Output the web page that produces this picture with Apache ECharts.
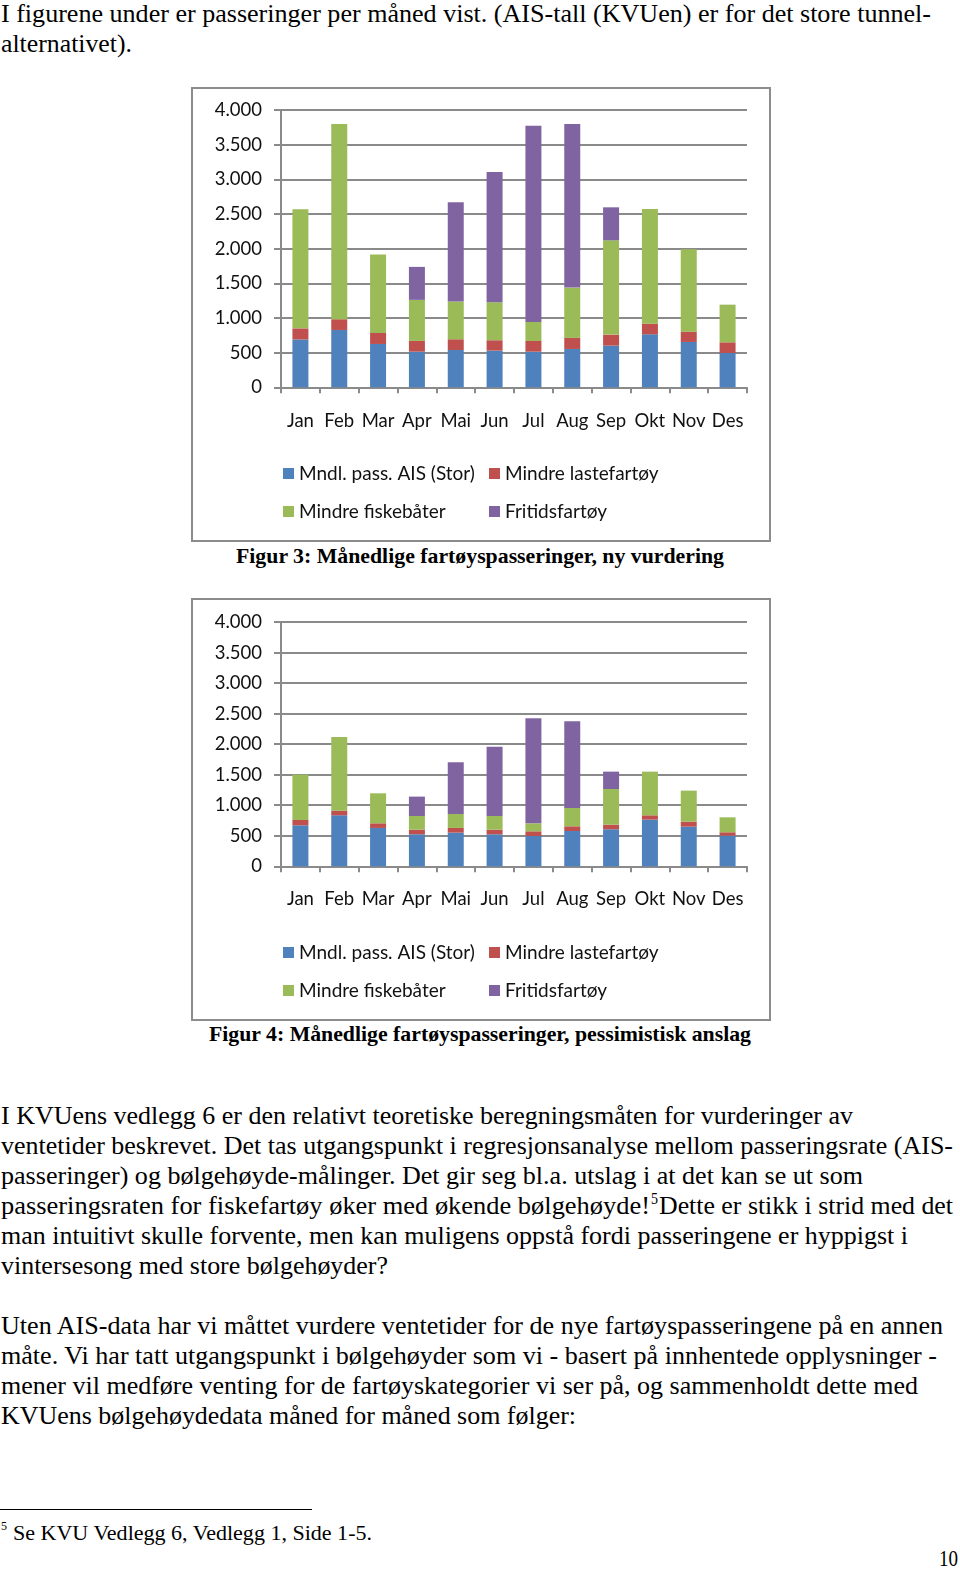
<!DOCTYPE html>
<html>
<head>
<meta charset="utf-8">
<script src="https://cdn.jsdelivr.net/npm/echarts@6/dist/echarts.min.js"></script>
<style>
  html, body { margin: 0; padding: 0; background: #fff; }
  #page { position: relative; width: 960px; height: 1569px; overflow: hidden; }
  #prose { position: absolute; left: 0; top: 0; }
  #prose text { font-family: "Liberation Serif", "Times New Roman", serif; fill: #000; }
  .fig { position: absolute; left: 0; width: 960px; }
</style>
</head>
<body>
<div id="page">
  <svg id="prose" width="960" height="1569"></svg>
  <div id="fig3" class="fig" style="top: 80px; height: 466px;"></div>
  <div id="fig4" class="fig" style="top: 590px; height: 436px;"></div>
</div>

<script>
// kategorier
const months = ['Jan', 'Feb', 'Mar', 'Apr', 'Mai', 'Jun', 'Jul', 'Aug', 'Sep', 'Okt', 'Nov', 'Des'];
const seriesNames = ['Mndl. pass. AIS (Stor)', 'Mindre lastefartøy', 'Mindre fiskebåter', 'Fritidsfartøy'];
const yTicks = { min: 0, max: 4000, interval: 500 };

// Figur 3: ny vurdering
const ais3    = [690, 827, 625, 514, 538, 529, 514, 553, 601, 764, 654, 495];
const laste3  = [160, 155, 160, 155, 155, 150, 154, 159, 159, 154, 149, 154];
const fiske3  = [1720, 2817, 1130, 592, 544, 548, 274, 726, 1360, 1654, 1187, 543];
const fritid3 = [0, 0, 0, 476, 1432, 1880, 2832, 2360, 476, 0, 0, 0];

// Figur 4: pessimistisk anslag
const ais4    = [671, 835, 628, 524, 551, 524, 497, 578, 606, 764, 649, 502];
const laste4  = [87, 76, 76, 76, 77, 76, 76, 77, 76, 71, 82, 55];
const fiske4  = [743, 1206, 491, 224, 229, 224, 131, 300, 584, 715, 508, 245];
const fritid4 = [0, 0, 0, 317, 846, 1135, 1719, 1419, 284, 0, 0, 0];

const colors = ['#4F81BD', '#C0504D', '#9BBB59', '#8064A2'];
const axisGray = '#8a8a8a';
const sans = 'Lato, "Open Sans", sans-serif';

function fmtNo(v) {
  return String(v).replace(/\B(?=(\d{3})+(?!\d))/g, '.');
}

function makeOption(values, lay) {
  const legendPos = [
    { left: 283, top: lay.row1 }, { left: 489, top: lay.row1 },
    { left: 283, top: lay.row2 }, { left: 489, top: lay.row2 }
  ];
  return {
    animation: false,
    color: colors,
    graphic: [{
      type: 'rect',
      shape: { x: 192, y: lay.frameTop, width: 578, height: lay.frameH },
      style: { fill: 'none', stroke: '#8c8c8c', lineWidth: 2 },
      silent: true
    }],
    grid: { left: 281, right: 213, top: lay.gridTop, height: lay.gridH },
    legend: seriesNames.map((n, i) => ({
      data: [n],
      left: legendPos[i].left,
      top: legendPos[i].top,
      icon: 'rect',
      itemWidth: 11,
      itemHeight: 11,
      padding: 0,
      textStyle: { fontFamily: sans, fontSize: 19, color: '#111' }
    })),
    xAxis: {
      type: 'category',
      data: months,
      axisLine: { lineStyle: { color: axisGray, width: 2 } },
      axisTick: { show: true, length: 6, interval: 0, lineStyle: { color: axisGray, width: 2 } },
      axisLabel: { margin: lay.xMargin, interval: 0, fontFamily: sans, fontSize: 18.5, color: '#111' }
    },
    yAxis: {
      type: 'value',
      min: yTicks.min,
      max: yTicks.max,
      interval: yTicks.interval,
      axisLine: { show: true, lineStyle: { color: axisGray, width: 2 } },
      axisTick: { show: true, length: 7, lineStyle: { color: axisGray, width: 2 } },
      splitLine: { lineStyle: { color: axisGray, width: 2 } },
      axisLabel: { margin: 19, fontFamily: sans, fontSize: 18.5, color: '#111', formatter: fmtNo }
    },
    series: seriesNames.map((n, i) => ({
      name: n,
      type: 'bar',
      stack: 'total',
      barWidth: 16,
      data: values[i]
    }))
  };
}

const chart3 = echarts.init(document.getElementById('fig3'));
chart3.setOption(makeOption([ais3, laste3, fiske3, fritid3], {
  frameTop: 8, frameH: 453, gridTop: 30, gridH: 277.3, xMargin: 24, row1: 384, row2: 422
}));

const chart4 = echarts.init(document.getElementById('fig4'));
chart4.setOption(makeOption([ais4, laste4, fiske4, fritid4], {
  frameTop: 9, frameH: 421, gridTop: 32, gridH: 244.3, xMargin: 23, row1: 353, row2: 391
}));

// løpende tekst
const lines = [
  { t: 'I figurene under er passeringer per måned vist. (AIS-tall (KVUen) er for det store tunnel-', x: 1, y: 22, w: 930, s: 26 },
  { t: 'alternativet).', x: 1, y: 52, w: 131, s: 26 },
  { t: 'Figur 3: Månedlige fartøyspasseringer, ny vurdering', x: 236, y: 563, w: 488, s: 22, b: true },
  { t: 'Figur 4: Månedlige fartøyspasseringer, pessimistisk anslag', x: 209, y: 1041, w: 542, s: 22, b: true },
  { t: 'I KVUens vedlegg 6 er den relativt teoretiske beregningsmåten for vurderinger av', x: 1, y: 1124, w: 852, s: 26 },
  { t: 'ventetider beskrevet. Det tas utgangspunkt i regresjonsanalyse mellom passeringsrate (AIS-', x: 1, y: 1154, w: 952, s: 26 },
  { t: 'passeringer) og bølgehøyde-målinger. Det gir seg bl.a. utslag i at det kan se ut som', x: 1, y: 1184, w: 862, s: 26 },
  { t: 'passeringsraten for fiskefartøy øker med økende bølgehøyde!', x: 1, y: 1214, w: 649, s: 26 },
  { t: '5', x: 651, y: 1204, w: 7, s: 16 },
  { t: 'Dette er stikk i strid med det', x: 659, y: 1214, w: 294, s: 26 },
  { t: 'man intuitivt skulle forvente, men kan muligens oppstå fordi passeringene er hyppigst i', x: 1, y: 1244, w: 907, s: 26 },
  { t: 'vintersesong med store bølgehøyder?', x: 1, y: 1274, w: 387, s: 26 },
  { t: 'Uten AIS-data har vi måttet vurdere ventetider for de nye fartøyspasseringene på en annen', x: 1, y: 1334, w: 942, s: 26 },
  { t: 'måte. Vi har tatt utgangspunkt i bølgehøyder som vi - basert på innhentede opplysninger -', x: 1, y: 1364, w: 936, s: 26 },
  { t: 'mener vil medføre venting for de fartøyskategorier vi ser på, og sammenholdt dette med', x: 1, y: 1394, w: 917, s: 26 },
  { t: 'KVUens bølgehøydedata måned for måned som følger:', x: 1, y: 1424, w: 575, s: 26 },
  { t: '5', x: 1, y: 1530, w: 6, s: 13 },
  { t: 'Se KVU Vedlegg 6, Vedlegg 1, Side 1-5.', x: 13, y: 1540, w: 359, s: 20 },
  { t: '10', x: 939, y: 1566, w: 19, s: 24 }
];

const svgNS = 'http://www.w3.org/2000/svg';
const svg = document.getElementById('prose');
lines.forEach(l => {
  const el = document.createElementNS(svgNS, 'text');
  el.setAttribute('x', l.x);
  el.setAttribute('y', l.y);
  el.setAttribute('font-size', l.s);
  if (l.b) el.setAttribute('font-weight', 'bold');
  el.setAttribute('textLength', l.w);
  el.setAttribute('lengthAdjust', 'spacingAndGlyphs');
  el.textContent = l.t;
  svg.appendChild(el);
});
const rule = document.createElementNS(svgNS, 'line');
rule.setAttribute('x1', 0); rule.setAttribute('x2', 312);
rule.setAttribute('y1', 1509.5); rule.setAttribute('y2', 1509.5);
rule.setAttribute('stroke', '#000'); rule.setAttribute('stroke-width', 1);
svg.appendChild(rule);
</script>
</body>
</html>
